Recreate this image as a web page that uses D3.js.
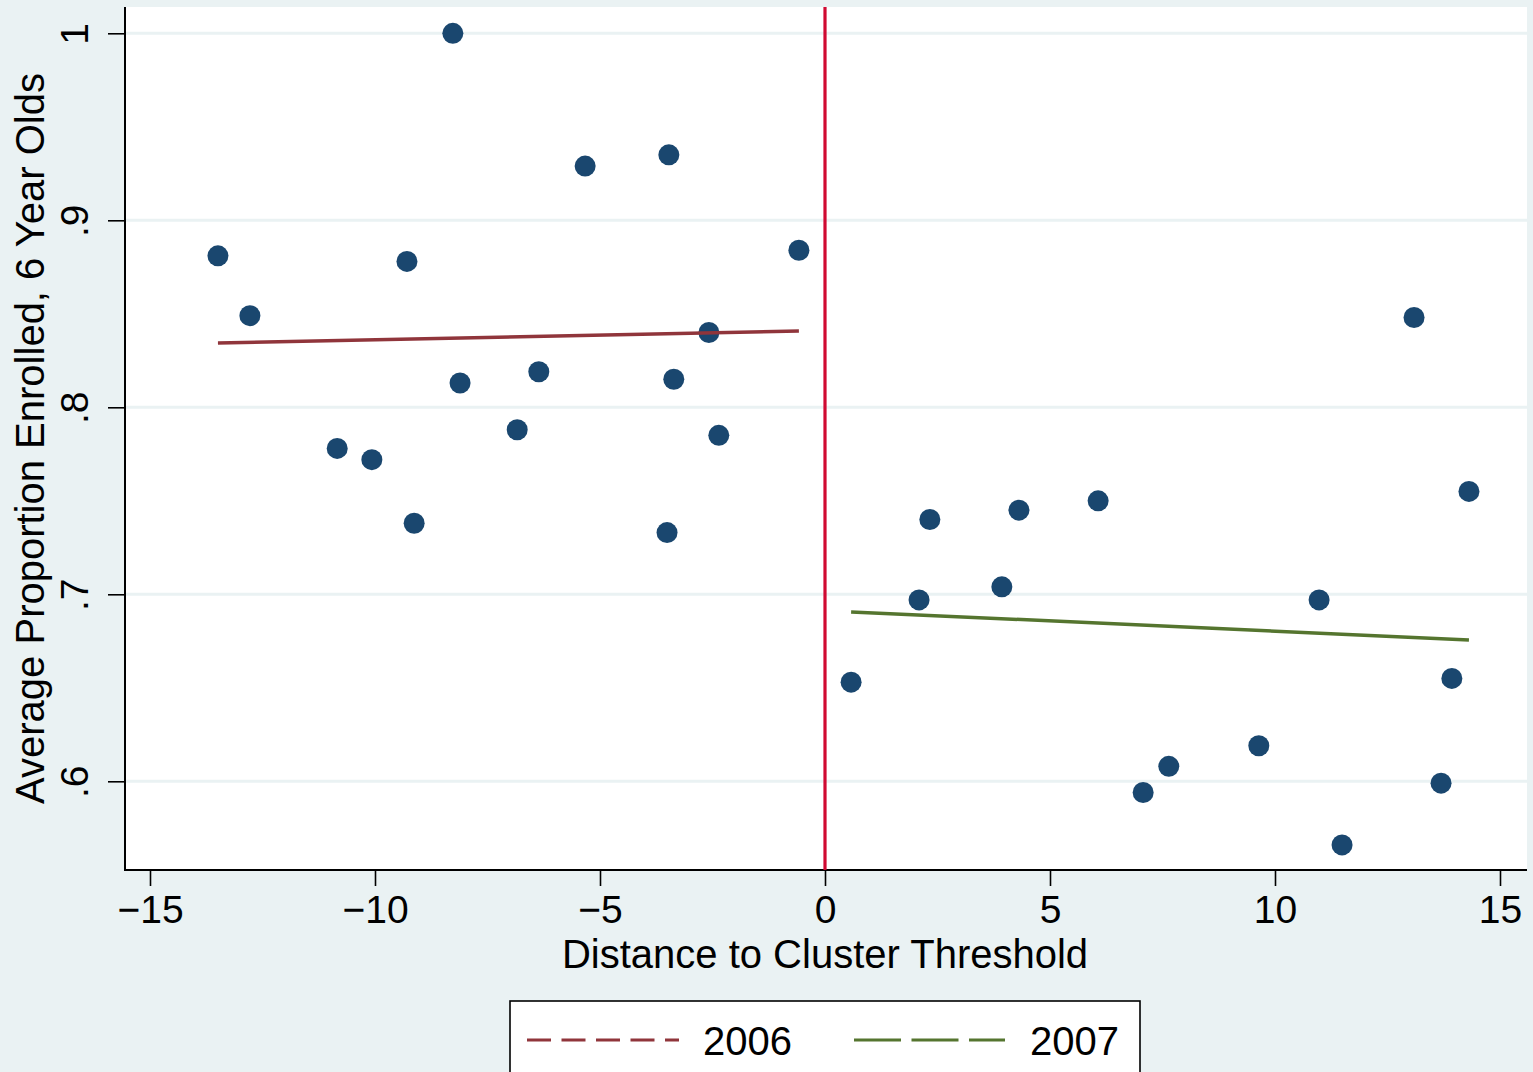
<!DOCTYPE html>
<html>
<head>
<meta charset="utf-8">
<script src="https://cdn.jsdelivr.net/npm/d3@7"></script>
<style>
  html, body { margin: 0; padding: 0; background: #eaf2f3; }
  svg { display: block; }
  text { font-family: "Liberation Sans", Arial, Helvetica, sans-serif; fill: #000; }
</style>
</head>
<body>
<svg id="chart" width="1533" height="1072"></svg>
<script>
// Binned means: distance to the cluster threshold and the average enrolment share
const binDistance = [
  -13.49, -12.78, -10.84, -10.07, -9.29, -9.13, -8.27, -8.11, -6.84, -6.36,
  -5.33, -3.51, -3.47, -3.36, -2.58, -2.36, -0.58,
  0.58, 2.09, 2.33, 3.93, 4.31, 6.07, 7.07, 7.64, 9.64, 10.98, 11.49,
  13.09, 13.69, 13.93, 14.31
];
const binEnrolled = [
  0.881, 0.849, 0.778, 0.772, 0.878, 0.738, 1.000, 0.813, 0.788, 0.819,
  0.929, 0.733, 0.935, 0.815, 0.840, 0.785, 0.884,
  0.653, 0.697, 0.740, 0.704, 0.745, 0.750, 0.594, 0.608, 0.619, 0.697, 0.566,
  0.848, 0.599, 0.655, 0.755
];

// Linear fits on each side of the threshold (end points)
const fit2006X = [-13.49, -0.58];
const fit2006Y = [0.8344, 0.8408];
const fit2007X = [0.58, 14.31];
const fit2007Y = [0.6906, 0.6756];

const xTicks = [-15, -10, -5, 0, 5, 10, 15];
const yTicks = [0.6, 0.7, 0.8, 0.9, 1.0];
const yTickLabels = [".6", ".7", ".8", ".9", "1"];
const legendLabels = ["2006", "2007"];

const svg = d3.select("#chart");
const W = 1533, H = 1072;

const plot = { left: 125, right: 1527, top: 7, bottom: 870 };

const x = d3.scaleLinear().domain([-15, 15]).range([150, 1500]);
const y = d3.scaleLinear().domain([0.6, 1]).range([781.3, 33.3]);

const colors = {
  bg: "#eaf2f3",
  grid: "#eaf2f3",
  marker: "#1a476f",
  fit2006: "#90353b",
  fit2007: "#55752f",
  threshold: "#d00a32"
};

svg.append("rect").attr("width", W).attr("height", H).attr("fill", colors.bg);

// plot region
svg.append("rect")
  .attr("x", plot.left).attr("y", plot.top)
  .attr("width", plot.right - plot.left).attr("height", plot.bottom - plot.top)
  .attr("fill", "#fff");

// horizontal grid lines
svg.append("g").selectAll("line").data(yTicks).join("line")
  .attr("x1", plot.left).attr("x2", plot.right)
  .attr("y1", d => y(d)).attr("y2", d => y(d))
  .attr("stroke", colors.grid).attr("stroke-width", 3);

// y axis
const yAxis = d3.axisLeft(y).tickValues(yTicks).tickSize(17)
  .tickFormat((d, i) => yTickLabels[i]);
const gy = svg.append("g").attr("transform", `translate(${plot.left},0)`).call(yAxis);
gy.select(".domain").remove();
gy.selectAll(".tick line").attr("stroke", "#000").attr("stroke-width", 1.6);
gy.selectAll(".tick text")
  .attr("transform", "rotate(-90)")
  .attr("x", 0).attr("y", 0)
  .attr("dx", null).attr("dy", null)
  .attr("text-anchor", "middle")
  .style("font-size", "39px")
  .each(function () {
    // rotated label: baseline sits 37px left of the axis line
    d3.select(this).attr("transform", "translate(-37,0) rotate(-90)");
  });

// x axis
const xAxis = d3.axisBottom(x).tickValues(xTicks).tickSize(16)
  .tickFormat(d => d < 0 ? "\u2212" + Math.abs(d) : String(d));
const gx = svg.append("g").attr("transform", `translate(0,${plot.bottom})`).call(xAxis);
gx.select(".domain").remove();
gx.selectAll(".tick line").attr("stroke", "#000").attr("stroke-width", 1.6);
gx.selectAll(".tick text")
  .attr("y", 53).attr("dy", null)
  .style("font-size", "39px");

// axis lines
svg.append("line")
  .attr("x1", plot.left).attr("x2", plot.left)
  .attr("y1", plot.top).attr("y2", plot.bottom + 1)
  .attr("stroke", "#000").attr("stroke-width", 2);
svg.append("line")
  .attr("x1", plot.left).attr("x2", plot.right)
  .attr("y1", plot.bottom).attr("y2", plot.bottom)
  .attr("stroke", "#000").attr("stroke-width", 2);

// threshold line at zero
svg.append("line")
  .attr("x1", x(0)).attr("x2", x(0))
  .attr("y1", plot.top).attr("y2", plot.bottom)
  .attr("stroke", colors.threshold).attr("stroke-width", 3.2);

// scatter of binned means
svg.append("g").selectAll("circle").data(binDistance).join("circle")
  .attr("cx", d => x(d))
  .attr("cy", (d, i) => y(binEnrolled[i]))
  .attr("r", 10.5)
  .attr("fill", colors.marker);

// fitted lines
const line = d3.line().x(d => x(d[0])).y(d => y(d[1]));
svg.append("path")
  .datum(fit2006X.map((d, i) => [d, fit2006Y[i]]))
  .attr("d", line).attr("fill", "none")
  .attr("stroke", colors.fit2006).attr("stroke-width", 3.5);
svg.append("path")
  .datum(fit2007X.map((d, i) => [d, fit2007Y[i]]))
  .attr("d", line).attr("fill", "none")
  .attr("stroke", colors.fit2007).attr("stroke-width", 3.5);

// axis titles
svg.append("text")
  .attr("x", x(0)).attr("y", 968)
  .attr("text-anchor", "middle")
  .style("font-size", "40px")
  .text("Distance to Cluster Threshold");

svg.append("text")
  .attr("transform", `translate(44,${(plot.top + plot.bottom) / 2}) rotate(-90)`)
  .attr("text-anchor", "middle")
  .style("font-size", "40px")
  .text("Average Proportion Enrolled, 6 Year Olds");

// legend
const legend = svg.append("g");
legend.append("rect")
  .attr("x", 510).attr("y", 1001)
  .attr("width", 630).attr("height", 90)
  .attr("fill", "#fff").attr("stroke", "#000").attr("stroke-width", 1.6);

const legendItems = [
  { label: legendLabels[0], color: colors.fit2006, dash: "24 10.5", x0: 527, x1: 679, tx: 703 },
  { label: legendLabels[1], color: colors.fit2007, dash: "47 10.5", x0: 854, x1: 1005, tx: 1030 }
];
legendItems.forEach(it => {
  legend.append("line")
    .attr("x1", it.x0).attr("x2", it.x1)
    .attr("y1", 1040).attr("y2", 1040)
    .attr("stroke", it.color).attr("stroke-width", 3)
    .attr("stroke-dasharray", it.dash);
  legend.append("text")
    .attr("x", it.tx).attr("y", 1055)
    .style("font-size", "40px")
    .text(it.label);
});
</script>
</body>
</html>
